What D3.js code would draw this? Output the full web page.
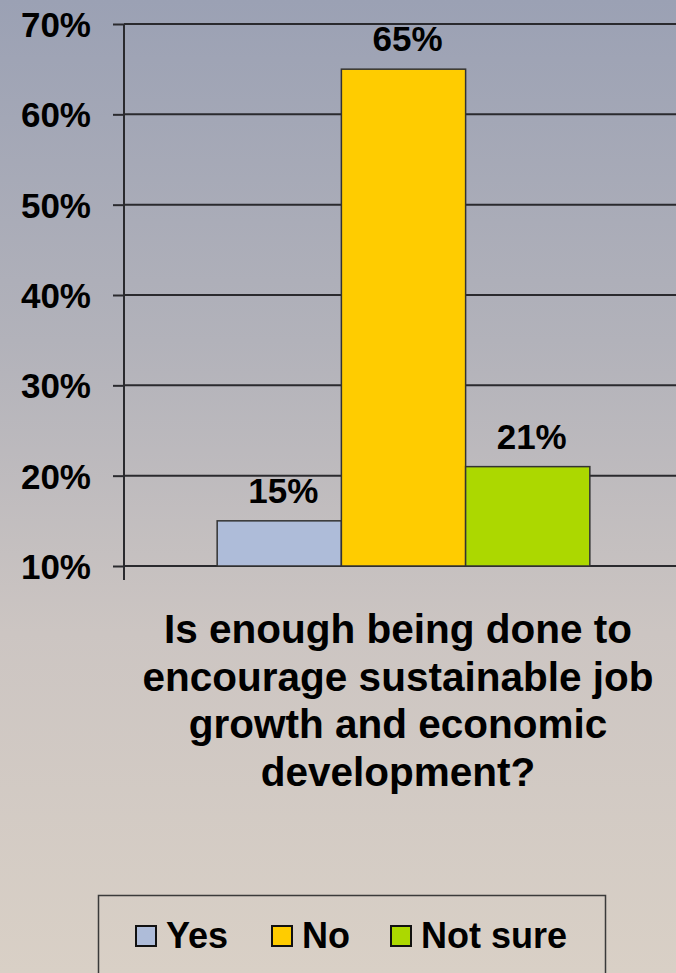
<!DOCTYPE html>
<html>
<head>
<meta charset="utf-8">
<script src="https://cdn.jsdelivr.net/npm/d3@7"></script>
<style>
  html, body { margin: 0; padding: 0; background: #d8cfc6; }
  svg { display: block; }
  text { font-family: "Liberation Sans", Arial, sans-serif; font-weight: bold; fill: #000; }
</style>
</head>
<body>
<svg id="chart" width="676" height="973"></svg>
<script>
// Survey answers (percent of respondents)
const categories = ["Yes", "No", "Not sure"];
const values = [15, 65, 21];
const colors = ["#aebcd9", "#ffcc00", "#acd800"];
const tickValues = [10, 20, 30, 40, 50, 60, 70];
const questionLines = [
  "Is enough being done to",
  "encourage sustainable job",
  "growth and economic",
  "development?"
];

const W = 676, H = 973;
const svg = d3.select("#chart");

// Backdrop: cool grey at the top fading to warm beige below
const defs = svg.append("defs");
const grad = defs.append("linearGradient")
  .attr("id", "bg").attr("x1", 0).attr("y1", 0).attr("x2", 0).attr("y2", 1);
grad.append("stop").attr("offset", "0%").attr("stop-color", "#9ba1b4");
grad.append("stop").attr("offset", "35%").attr("stop-color", "#b2b2ba");
grad.append("stop").attr("offset", "65%").attr("stop-color", "#ccc5c2");
grad.append("stop").attr("offset", "100%").attr("stop-color", "#d9d0c6");
svg.append("rect").attr("width", W).attr("height", H).attr("fill", "url(#bg)");

// Plot area
const plotLeft = 124, plotRight = 683, plotTop = 24, plotBottom = 566;

const y = d3.scaleLinear().domain([10, 70]).range([plotBottom, plotTop]);
const xGroup = d3.scaleBand().domain(["q"]).range([plotLeft, plotRight])
  .paddingInner(0).paddingOuter(0.25);
const x = d3.scaleBand().domain(categories)
  .range([xGroup("q"), xGroup("q") + xGroup.bandwidth()]);

// Horizontal gridlines
svg.append("g")
  .selectAll("line")
  .data(tickValues)
  .join("line")
  .attr("x1", plotLeft).attr("x2", W + 10)
  .attr("y1", d => y(d)).attr("y2", d => y(d))
  .attr("stroke", "#2a2a2e").attr("stroke-width", 2);

// Y axis with outward ticks
const yAxis = d3.axisLeft(y)
  .tickValues(tickValues)
  .tickFormat(d => d + "%")
  .tickSize(11)
  .tickPadding(22);
const gy = svg.append("g").attr("transform", `translate(${plotLeft},0)`).call(yAxis);
gy.select(".domain").remove();
gy.selectAll(".tick line").attr("stroke", "#2a2a2e").attr("stroke-width", 2);
gy.selectAll(".tick text")
  .attr("font-size", 35)
  .attr("font-family", "'Liberation Sans', Arial, sans-serif")
  .attr("font-weight", "bold")
  .attr("fill", "#000")
  .attr("dy", "0.36em");
svg.append("line")
  .attr("x1", plotLeft).attr("x2", plotLeft)
  .attr("y1", plotTop).attr("y2", plotBottom + 14)
  .attr("stroke", "#2a2a2e").attr("stroke-width", 2);

// Bars
const data = categories.map((c, i) => ({ cat: c, value: values[i], color: colors[i] }));
svg.append("g")
  .selectAll("rect")
  .data(data)
  .join("rect")
  .attr("x", d => x(d.cat))
  .attr("width", x.bandwidth())
  .attr("y", d => y(d.value))
  .attr("height", d => y(10) - y(d.value))
  .attr("fill", d => d.color)
  .attr("stroke", "#333")
  .attr("stroke-width", 1.5);

// Value labels
svg.append("g")
  .selectAll("text")
  .data(data)
  .join("text")
  .attr("x", d => x(d.cat) + x.bandwidth() / 2 + 4)
  .attr("y", d => y(d.value) - 18)
  .attr("text-anchor", "middle")
  .attr("font-size", 35)
  .text(d => d.value + "%");

// Question text under the plot
svg.append("g")
  .selectAll("text")
  .data(questionLines)
  .join("text")
  .attr("x", 398)
  .attr("y", (d, i) => 643 + i * 47.5)
  .attr("text-anchor", "middle")
  .attr("font-size", 40.5)
  .text(d => d);

// Legend
const legend = svg.append("g");
legend.append("rect")
  .attr("x", 98.5).attr("y", 895.5)
  .attr("width", 507).attr("height", 100)
  .attr("fill", "none").attr("stroke", "#3a3a3a").attr("stroke-width", 1.5);
const legendX = [136, 272, 391];
const items = legend.selectAll("g.item")
  .data(data)
  .join("g")
  .attr("class", "item")
  .attr("transform", (d, i) => `translate(${legendX[i]},926)`);
items.append("rect")
  .attr("width", 20).attr("height", 20)
  .attr("fill", d => d.color)
  .attr("stroke", "#111").attr("stroke-width", 2);
items.append("text")
  .attr("x", 30).attr("y", 22)
  .attr("font-size", 36)
  .text(d => d.cat);
</script>
</body>
</html>
